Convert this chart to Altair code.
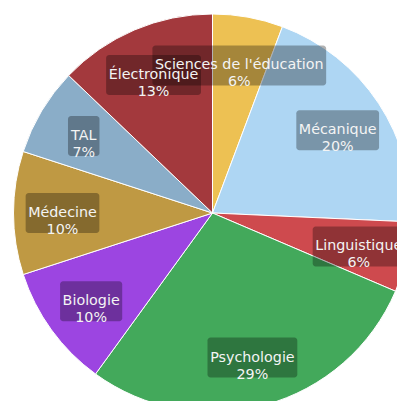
import altair as alt
import pandas as pd

# Slices, clockwise from 12 o'clock
categories = ["Sciences de l'éducation", "Mécanique", "Linguistique", "Psychologie",
              "Biologie", "Médecine", "TAL", "Électronique"]
counts = [4, 14, 4, 20, 7, 7, 5, 9]
colors = ["#EDC153", "#AED6F3", "#CE4A4E", "#43A95B",
          "#9C45E1", "#BF9943", "#8AADC8", "#A3393D"]

FONT = "DejaVu Sans"
FONT_SIZE = 14.3
CX, CY, R, RL = 204.5, 205, 199, 150
W, H = 389, 393

# DejaVu Sans advance widths (em) to size the label boxes
_adv = {" ": .318, "%": .95, "'": .275, "A": .684, "B": .686, "L": .557, "M": .863,
        "P": .603, "S": .635, "T": .611, "É": .632, "a": .613, "b": .635, "c": .55,
        "d": .635, "e": .615, "é": .615, "g": .635, "h": .634, "i": .278, "k": .579,
        "l": .278, "m": .974, "n": .634, "o": .612, "p": .635, "q": .635, "r": .411,
        "s": .521, "t": .392, "u": .634, "y": .592}


def text_width(s):
    return sum(_adv.get(ch, .636) for ch in s) * FONT_SIZE


total = sum(counts)
tw = [max(text_width(c), text_width(f"{round(100 * v / total)}%"))
      for c, v in zip(categories, counts)]

df = pd.DataFrame({"cat": categories, "value": counts,
                   "idx": list(range(len(categories))), "tw": tw})

base = alt.Chart(df)

pie = base.mark_arc(outerRadius=R, stroke="white", strokeWidth=1).encode(
    theta=alt.Theta("value:Q", stack=True),
    order=alt.Order("idx:Q"),
    color=alt.Color("cat:N", scale=alt.Scale(domain=categories, range=colors), legend=None),
    x=alt.value(CX),
    y=alt.value(CY),
)

lab = (
    base.transform_joinaggregate(total="sum(value)")
    .transform_window(cum="sum(value)", sort=[alt.SortField("idx")], frame=[None, 0])
    .transform_calculate(mid="(datum.cum - datum.value/2)/datum.total*2*PI")
    .transform_calculate(px=f"{CX} + {RL}*sin(datum.mid)")
    .transform_calculate(py=f"{CY} - {RL}*cos(datum.mid)")
    .transform_calculate(label="datum.cat + '\\n' + format(datum.value/datum.total, '.0%')")
    .transform_calculate(bx1="datum.px - datum.tw/2 - 2.5")
    .transform_calculate(bx2="datum.px + datum.tw/2 + 2.5")
    .transform_calculate(by1="datum.py - 20")
    .transform_calculate(by2="datum.py + 20")
)

boxes = lab.mark_rect(cornerRadius=3, color="black", opacity=0.3).encode(
    x=alt.X("bx1:Q", scale=None, axis=None),
    x2="bx2:Q",
    y=alt.Y("by1:Q", scale=None, axis=None),
    y2="by2:Q",
)

texts = lab.mark_text(font=FONT, fontSize=FONT_SIZE, color="#f4f4f4", lineBreak="\n",
                      lineHeight=17, align="center", baseline="middle").encode(
    x=alt.X("px:Q", scale=None, axis=None),
    y=alt.Y("py:Q", scale=None, axis=None),
    text="label:N",
)

chart = (
    alt.layer(pie, boxes, texts)
    .properties(width=W, height=H, padding=0, autosize=alt.AutoSizeParams(type="none"))
    .configure_view(stroke=None)
)

chart.save("out.html", embed_options={"renderer": "svg", "actions": False})
